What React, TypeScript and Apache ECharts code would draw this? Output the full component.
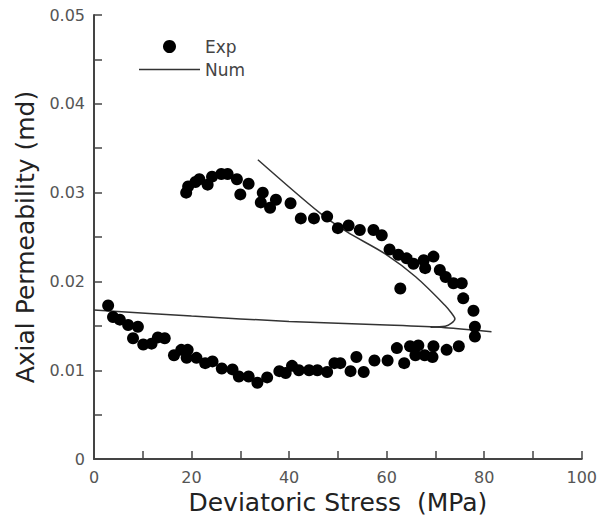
import React, { useEffect, useRef } from "react";
import * as echarts from "echarts";

const xTickLabels = [0, 20, 40, 60, 80, 100];
const yTickLabels = [0, 0.01, 0.02, 0.03, 0.04, 0.05];

// Experimental points [Deviatoric stress (MPa), Axial permeability (md)]
const expLoading: [number, number][] = [
  [2.9, 0.0173], [3.9, 0.016], [5.3, 0.0157], [7.0, 0.0151], [9.0, 0.0149],
  [8.0, 0.0136], [10.1, 0.0129], [11.8, 0.013], [13.1, 0.0137], [14.5, 0.0136],
  [16.4, 0.0117], [17.9, 0.0123], [19.2, 0.0123], [19.0, 0.0114], [21.0, 0.0114],
  [22.8, 0.0108], [24.3, 0.011], [26.2, 0.0102], [28.4, 0.0101], [29.7, 0.0093],
  [31.7, 0.0093], [33.5, 0.0086], [35.5, 0.0092], [38.0, 0.0099], [39.3, 0.0097],
  [40.6, 0.0105], [42.0, 0.01], [44.1, 0.01], [45.8, 0.01], [47.8, 0.0098],
  [49.3, 0.0108], [50.5, 0.0108], [52.6, 0.0099], [53.8, 0.0115], [55.3, 0.0098],
  [57.5, 0.0111], [60.2, 0.0111], [62.1, 0.0125], [63.6, 0.0108], [64.8, 0.0127],
  [66.5, 0.0128], [65.9, 0.0117], [67.8, 0.0117], [69.4, 0.0115], [69.6, 0.0127],
  [72.3, 0.0123], [74.8, 0.0127], [78.1, 0.0138], [78.1, 0.0149], [77.8, 0.0167],
];
const expUnloading: [number, number][] = [
  [75.7, 0.0181], [75.4, 0.0198], [73.7, 0.0198], [72.1, 0.0205], [70.9, 0.0213],
  [69.6, 0.0228], [67.9, 0.0215], [67.6, 0.0224], [65.5, 0.022], [64.1, 0.0226],
  [62.4, 0.023], [60.6, 0.0236], [59.0, 0.0252], [57.3, 0.0258], [54.5, 0.0258],
  [52.2, 0.0263], [50.0, 0.026], [47.8, 0.0273], [45.1, 0.0271], [42.4, 0.0271],
  [40.3, 0.0288], [37.3, 0.0292], [36.1, 0.0283], [34.2, 0.0289], [34.6, 0.03],
  [31.7, 0.031], [30.0, 0.0298], [29.3, 0.0315], [27.4, 0.0321], [26.1, 0.0321],
  [24.2, 0.0318], [23.3, 0.0309], [21.6, 0.0315], [20.8, 0.0312], [19.3, 0.0307],
  [18.9, 0.03], [62.8, 0.0192],
];

// Numerical curves
const numLoading: [number, number][] = [
  [0, 0.0168], [20, 0.0161], [40, 0.0155], [60, 0.0151], [72, 0.0148], [81.5, 0.01435],
];
const numUnloading: [number, number][] = [
  [69, 0.01485], [72, 0.01495], [73.3, 0.0153], [74, 0.0158], [73.2, 0.0165],
  [72, 0.0173], [66, 0.0205], [59.7, 0.0231], [51.8, 0.0256], [46.1, 0.0278], [33.6, 0.0337],
];

const FONT = "'DejaVu Sans', Arial, Helvetica, sans-serif";

export default function App() {
  const ref = useRef<HTMLDivElement>(null);
  useEffect(() => {
    if (!ref.current) return;
    const chart = echarts.init(ref.current, undefined, { renderer: "svg" });
    const lineColor = "#333";
    chart.setOption({
      animation: false,
      backgroundColor: "#fff",
      grid: { left: 94, right: 16, top: 15, bottom: 59, containLabel: false },
      legend: {
        orient: "vertical",
        left: 134,
        top: 33,
        itemWidth: 61,
        itemHeight: 13,
        itemGap: 6,
        data: [
          { name: "Exp", icon: "circle" },
          { name: "Num", icon: "path://M0,0 L60,0 L60,1.5 L0,1.5 Z" },
        ],
        textStyle: { fontFamily: FONT, fontSize: 17, color: "#444" },
      },
      xAxis: {
        type: "value",
        min: 0,
        max: 100,
        interval: 10,
        name: "Deviatoric Stress  (MPa)",
        nameLocation: "middle",
        nameGap: 26,
        nameTextStyle: { fontFamily: FONT, fontSize: 25, color: "#222" },
        axisLine: { show: true, lineStyle: { color: "#444", width: 2 } },
        axisTick: { show: true, inside: true, length: 8, lineStyle: { color: "#444", width: 1.5 } },
        axisLabel: {
          fontFamily: FONT,
          fontSize: 16,
          color: "#555",
          margin: 10,
          formatter: (v: number) => (xTickLabels.indexOf(v) >= 0 ? String(v) : ""),
        },
        splitLine: { show: false },
      },
      yAxis: {
        type: "value",
        min: 0,
        max: 0.05,
        interval: 0.005,
        name: "Axial Permeability (md)",
        nameLocation: "middle",
        nameGap: 52,
        nameTextStyle: { fontFamily: FONT, fontSize: 25, color: "#222" },
        axisLine: { show: true, lineStyle: { color: "#444", width: 2 } },
        axisTick: { show: true, inside: true, length: 8, lineStyle: { color: "#444", width: 1.5 } },
        axisLabel: {
          fontFamily: FONT,
          fontSize: 16,
          color: "#555",
          margin: 9,
          formatter: (v: number) => {
            const hit = yTickLabels.find((t) => Math.abs(t - v) < 1e-9);
            if (hit === undefined) return "";
            return hit === 0 ? "0" : hit.toFixed(2);
          },
        },
        splitLine: { show: false },
      },
      series: [
        {
          name: "Exp",
          type: "scatter",
          symbol: "circle",
          symbolSize: 12,
          itemStyle: { color: "#000", opacity: 1 },
          data: [...expLoading, ...expUnloading],
          z: 3,
        },
        {
          name: "Num",
          type: "line",
          symbol: "none",
          smooth: 0.3,
          lineStyle: { color: lineColor, width: 1.5 },
          itemStyle: { color: lineColor },
          data: numLoading,
          z: 2,
        },
        {
          name: "Num",
          type: "line",
          symbol: "none",
          smooth: 0.3,
          lineStyle: { color: lineColor, width: 1.5 },
          itemStyle: { color: lineColor },
          data: numUnloading,
          z: 2,
        },
      ],
    });
    return () => chart.dispose();
  }, []);
  return (
    <div
      ref={ref}
      style={{ position: "fixed", left: 0, top: 0, width: 600, height: 520, background: "#fff" }}
    />
  );
}
